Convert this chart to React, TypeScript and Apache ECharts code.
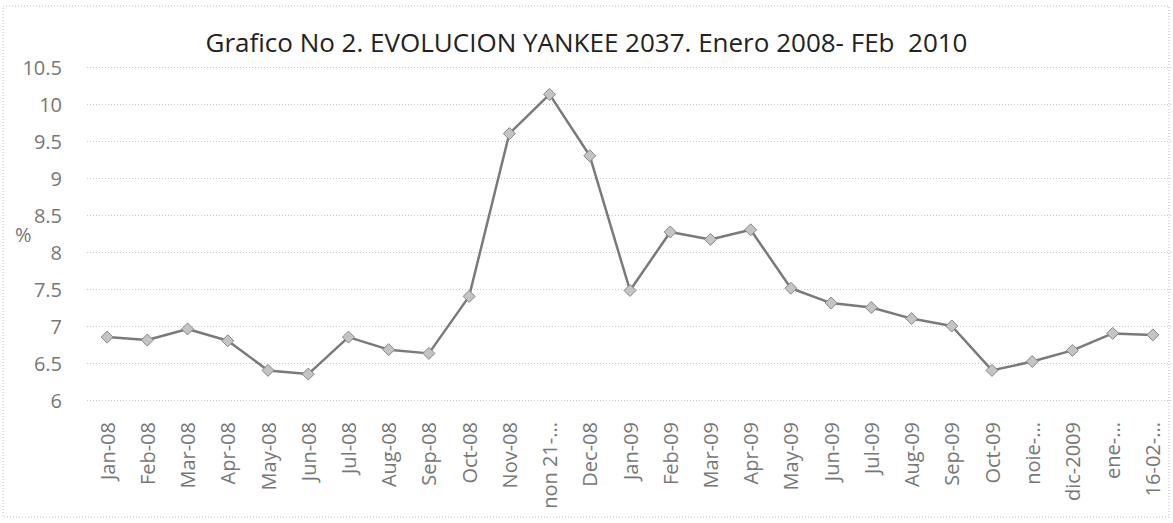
import React, { useEffect, useRef } from "react";
import * as echarts from "echarts";

const titleText = "Grafico No 2. EVOLUCION YANKEE 2037. Enero 2008- FEb  2010";
const yAxisName = "%";
const categories = [
  "Jan-08", "Feb-08", "Mar-08", "Apr-08", "May-08", "Jun-08", "Jul-08", "Aug-08", "Sep-08",
  "Oct-08", "Nov-08", "non 21-...", "Dec-08", "Jan-09", "Feb-09", "Mar-09", "Apr-09", "May-09",
  "Jun-09", "Jul-09", "Aug-09", "Sep-09", "Oct-09", "noie-...", "dic-2009", "ene-...", "16-02-...",
];
const yankee2037 = [
  6.85, 6.81, 6.96, 6.8, 6.4, 6.35, 6.85, 6.68, 6.63,
  7.4, 9.6, 10.13, 9.3, 7.48, 8.27, 8.17, 8.3, 7.51,
  7.31, 7.25, 7.1, 7.0, 6.4, 6.52, 6.67, 6.9, 6.88,
];
const yMin = 6;
const yMax = 10.5;
const yStep = 0.5;

export default function App() {
  const ref = useRef<HTMLDivElement>(null);
  useEffect(() => {
    if (!ref.current) return;
    const chart = echarts.init(ref.current, null, { renderer: "svg" });
    chart.setOption({
      animation: false,
      backgroundColor: "#ffffff",
      title: {
        text: titleText,
        left: "center",
        top: 24,
        textStyle: { fontFamily: "Open Sans", fontSize: 26, fontWeight: "normal", color: "#222" },
      },
      graphic: [
        {
          type: "rect",
          shape: { x: 3, y: 6, width: 1166, height: 511 },
          style: { fill: "none", stroke: "#bbb", lineWidth: 1, lineDash: [1, 2] },
          silent: true,
        },
        {
          type: "text",
          left: 15,
          top: 224,
          style: { text: yAxisName, font: "20px 'Open Sans'", fill: "#777" },
        },
      ],
      grid: { left: 87, right: -3, top: 67, bottom: 123, containLabel: false },
      xAxis: {
        type: "category",
        data: categories,
        boundaryGap: true,
        axisLine: { show: false },
        axisTick: { show: false },
        axisLabel: {
          rotate: 90,
          interval: 0,
          margin: 22,
          fontFamily: "Open Sans",
          fontSize: 20,
          color: "#777",
        },
      },
      yAxis: {
        type: "value",
        min: yMin,
        max: yMax,
        interval: yStep,
        axisLine: { show: false },
        axisTick: { show: false },
        axisLabel: {
          margin: 25,
          fontFamily: "Open Sans",
          fontSize: 20,
          color: "#777",
        },
        splitLine: { show: true, lineStyle: { color: "#c8c8c8", type: [1, 2], width: 1 } },
      },
      series: [
        {
          type: "line",
          data: yankee2037,
          symbol: "diamond",
          symbolSize: 12,
          lineStyle: { color: "#7a7a7a", width: 2.5 },
          itemStyle: { color: "#c4c4c4", borderColor: "#888", borderWidth: 1 },
        },
      ],
    });
    return () => chart.dispose();
  }, []);
  return (
    <div
      ref={ref}
      style={{ position: "fixed", left: 0, top: 0, width: 1173, height: 523 }}
    />
  );
}
